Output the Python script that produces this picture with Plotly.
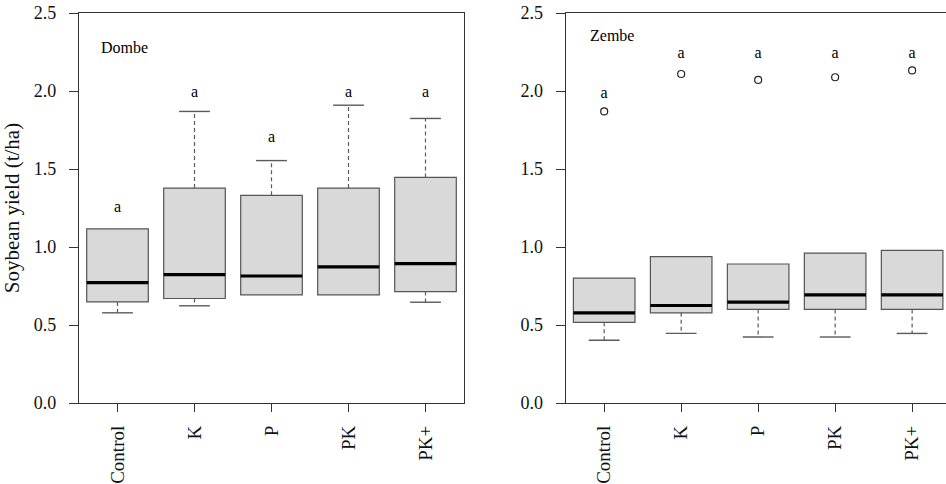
import plotly.graph_objects as go

# Treatments (shared by both sites)
treatments = ["Control", "K", "P", "PK", "PK+"]
positions = [1, 2, 3, 4, 5]

# Dombe box statistics (t/ha)
dombe_q1 = [0.648, 0.670, 0.693, 0.693, 0.714]
dombe_median = [0.772, 0.823, 0.814, 0.872, 0.893]
dombe_q3 = [1.116, 1.378, 1.331, 1.378, 1.446]
dombe_low = [0.578, 0.623, 0.693, 0.693, 0.646]
dombe_high = [1.116, 1.869, 1.554, 1.909, 1.824]
dombe_letter_y = [1.25, 1.99, 1.70, 1.99, 1.99]
dombe_letters = ["a", "a", "a", "a", "a"]

# Zembe box statistics (t/ha)
zembe_q1 = [0.517, 0.578, 0.600, 0.600, 0.600]
zembe_median = [0.578, 0.625, 0.646, 0.693, 0.693]
zembe_q3 = [0.801, 0.938, 0.891, 0.961, 0.978]
zembe_low = [0.402, 0.446, 0.423, 0.423, 0.446]
zembe_high = [0.801, 0.938, 0.891, 0.961, 0.978]
zembe_outliers = [1.869, 2.109, 2.071, 2.088, 2.132]
zembe_letter_y = [1.98, 2.236, 2.236, 2.236, 2.236]
zembe_letters = ["a", "a", "a", "a", "a"]

y_ticks = [0.0, 0.5, 1.0, 1.5, 2.0, 2.5]

BOX_W = 0.8
CAP_W = 0.4
FONT = "Liberation Serif"
BOX_FILL = "#d9d9d9"
BOX_EDGE = "#555555"
WHISK = "#5a5a5a"

fig = go.Figure()


def add_panel(q1, med, q3, low, high, letter_y, letters, xa, ya, outliers=None):
    # box bodies (whiskers drawn separately so they can be dashed)
    fig.add_trace(go.Box(
        x=positions, q1=q1, median=med, q3=q3,
        lowerfence=q1, upperfence=q3,
        width=BOX_W, fillcolor=BOX_FILL,
        line=dict(color=BOX_EDGE, width=1.2),
        whiskerwidth=0, boxpoints=False, hoverinfo="skip",
        xaxis=xa, yaxis=ya, showlegend=False,
    ))
    for i, x in enumerate(positions):
        # thick median bar
        fig.add_trace(go.Scatter(
            x=[x - BOX_W / 2, x + BOX_W / 2], y=[med[i], med[i]],
            mode="lines", line=dict(color="black", width=3.2),
            xaxis=xa, yaxis=ya, showlegend=False, hoverinfo="skip",
        ))
        # dashed whiskers with solid caps
        for end, edge in ((high[i], q3[i]), (low[i], q1[i])):
            if abs(end - edge) < 1e-9:
                continue
            fig.add_trace(go.Scatter(
                x=[x, x], y=[edge, end], mode="lines",
                line=dict(color=WHISK, width=1.2, dash="4px,3px"),
                xaxis=xa, yaxis=ya, showlegend=False, hoverinfo="skip",
            ))
            fig.add_trace(go.Scatter(
                x=[x - CAP_W / 2, x + CAP_W / 2], y=[end, end], mode="lines",
                line=dict(color=WHISK, width=1.4),
                xaxis=xa, yaxis=ya, showlegend=False, hoverinfo="skip",
            ))
    if outliers is not None:
        fig.add_trace(go.Scatter(
            x=positions, y=outliers, mode="markers",
            marker=dict(symbol="circle-open", size=7, color="#222222",
                        line=dict(width=1.2)),
            xaxis=xa, yaxis=ya, showlegend=False, hoverinfo="skip",
        ))
    # significance letters
    fig.add_trace(go.Scatter(
        x=positions, y=letter_y, mode="text", text=letters,
        textfont=dict(family=FONT, size=16, color="black"),
        xaxis=xa, yaxis=ya, showlegend=False, hoverinfo="skip",
    ))


add_panel(dombe_q1, dombe_median, dombe_q3, dombe_low, dombe_high,
          dombe_letter_y, dombe_letters, "x", "y")
add_panel(zembe_q1, zembe_median, zembe_q3, zembe_low, zembe_high,
          zembe_letter_y, zembe_letters, "x2", "y2", outliers=zembe_outliers)

W, H = 946, 484
axis_line = "#333333"
tick_font = dict(family=FONT, size=18, color="#111111")

xcommon = dict(
    tickmode="array", tickvals=positions, ticktext=treatments,
    tickangle=-90, ticks="outside", ticklen=8, tickcolor=axis_line,
    showline=True, linecolor=axis_line, linewidth=1.3,
    showgrid=False, zeroline=False,
    tickfont=dict(family=FONT, size=19, color="#111111"),
    ticklabelstandoff=6, fixedrange=True,
)
ycommon = dict(
    range=[0, 2.5], tickvals=y_ticks, ticktext=[f"{v:.1f}" for v in y_ticks],
    ticks="outside", ticklen=9, tickcolor=axis_line,
    showline=True, linecolor=axis_line, linewidth=1.3,
    showgrid=False, zeroline=False, tickfont=tick_font,
    ticklabelstandoff=9,
)

fig.update_layout(
    width=W, height=H,
    margin=dict(l=0, r=0, t=13, b=79),
    plot_bgcolor="white", paper_bgcolor="white",
    font=dict(family=FONT, color="black"),
    xaxis=dict(domain=[79 / W, 464 / W], range=[0.5, 5.5], mirror=True,
               anchor="y", **xcommon),
    yaxis=dict(anchor="x", mirror=True,
               title=dict(text="Soybean yield (t/ha)",
                          font=dict(family=FONT, size=21, color="#111111"),
                          standoff=8),
               **ycommon),
    xaxis2=dict(domain=[565.7 / W, 1.0], range=[0.5, 5.44], mirror=True,
                anchor="y2", **xcommon),
    yaxis2=dict(anchor="x2", mirror=False, **ycommon),
    annotations=[
        dict(text="Dombe", x=0.76, y=2.28, xref="x", yref="y",
             xanchor="left", yanchor="middle", showarrow=False,
             font=dict(family=FONT, size=16, color="black")),
        dict(text="Zembe", x=0.786, y=2.355, xref="x2", yref="y2",
             xanchor="left", yanchor="middle", showarrow=False,
             font=dict(family=FONT, size=16, color="black")),
    ],
)

fig.write_html("out.html")
